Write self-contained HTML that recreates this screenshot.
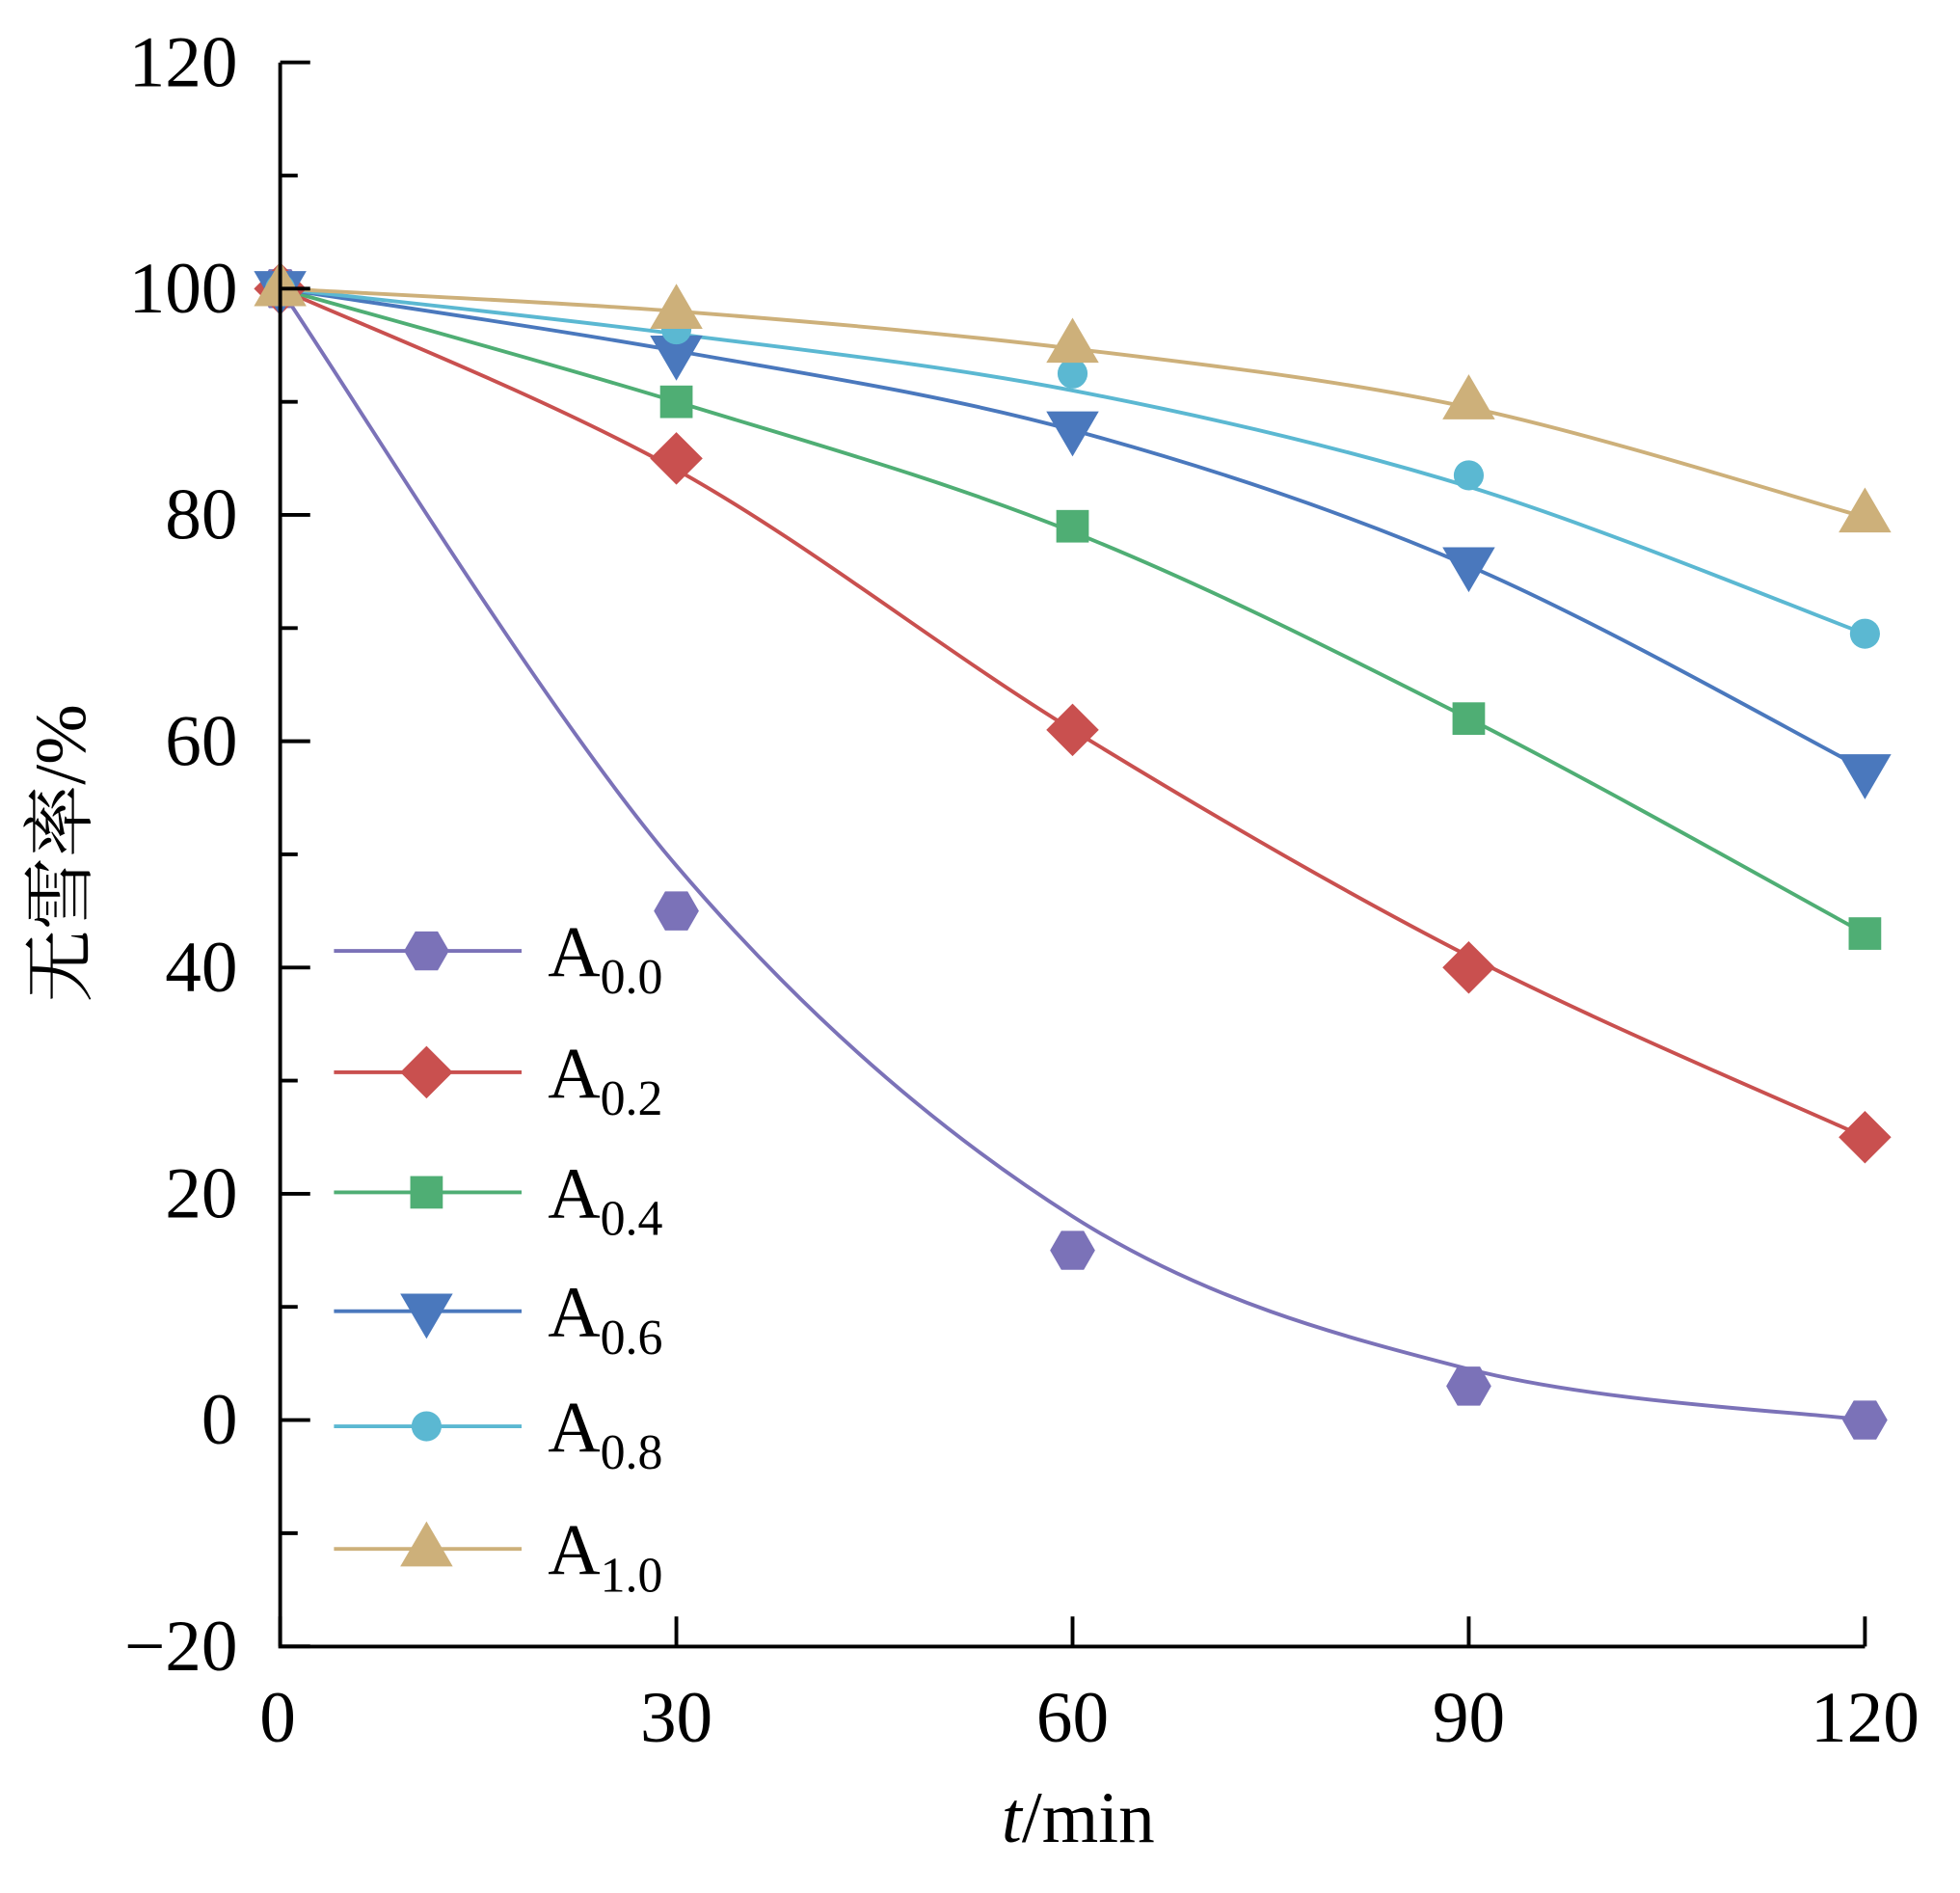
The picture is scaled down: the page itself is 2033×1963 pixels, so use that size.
<!DOCTYPE html>
<html><head><meta charset="utf-8"><style>html,body{margin:0;padding:0;background:#fff}svg{display:block}</style></head>
<body>
<svg id="s" xmlns="http://www.w3.org/2000/svg" width="2033" height="1963" viewBox="0 0 1567 1513">
<rect width="1567" height="1513" fill="#fff"/>
<g id="curves"></g><g id="marks"></g>
<g stroke="#000" stroke-width="3" fill="none">
<path d="M224,50 V1316 H1491"/>
</g>
<g id="ticks" stroke="#000" stroke-width="3"></g>
<g font-family="'Liberation Serif',serif" font-size="58" fill="#000" text-anchor="end" id="ylab"></g>
<g font-family="'Liberation Serif',serif" font-size="58" fill="#000" text-anchor="middle" id="xlab"></g>
<text x="862" y="1472" font-family="'Liberation Serif',serif" font-size="58" text-anchor="middle"><tspan font-style="italic">t</tspan>/min</text>
<text transform="translate(68,682) rotate(-90)" font-family="'Liberation Serif','Noto Serif CJK SC',serif" font-size="58" text-anchor="middle">无雪率/%</text>
<g id="legend"></g>
</svg>
<script>
const NS="http://www.w3.org/2000/svg";
const X=v=>224+v*(1267/120), Y=v=>1135-v*9.043;
function el(p,t,a){const e=document.createElementNS(NS,t);for(const k in a)e.setAttribute(k,a[k]);p.appendChild(e);return e;}
const tk=document.getElementById('ticks'),yl=document.getElementById('ylab'),xl=document.getElementById('xlab');
for(let v=-20;v<=120;v+=10){const y=Y(v),maj=v%20==0;el(tk,'line',{x1:224,x2:224+(maj?24:14),y1:y,y2:y});
 if(maj){const t=el(yl,'text',{x:190,y:y+19});t.textContent=(v<0?'\u2212':'')+Math.abs(v);}}
for(let v=0;v<=120;v+=30){const x=X(v);el(tk,'line',{x1:x,x2:x,y1:1316,y2:1292});const t=el(xl,'text',{x:v==0?222:x,y:1392});t.textContent=v;}
const S=[
 {c:'#7b72b8',m:'hex',curve:[100,49,18,4.5,0],pts:[100,45,15,3,0],n:'0.0'},
 {c:'#c9504f',m:'dia',curve:[100,84,61,41,25],pts:[100,85,61,40,25],n:'0.2'},
 {c:'#4fae74',m:'sq',curve:[100,90,78.5,62,43],pts:[100,90,79,62,43],n:'0.4'},
 {c:'#4a78bd',m:'tri-d',curve:[100,94.5,87.5,75.5,57.5],pts:[100,94.3,87.6,75.6,57.3],n:'0.6'},
 {c:'#5bb8d2',m:'circ',curve:[100,96,91,82.5,69.5],pts:[100,96.4,92.5,83.5,69.5],n:'0.8'},
 {c:'#cdb07a',m:'tri',curve:[100,98,94.7,89.5,79.8],pts:[100,98,95,90,80],n:'1.0'}];
function spline(vals){const P=vals.map((v,i)=>[X(i*30),Y(v)]);let d='M'+P[0];
 for(let i=0;i<P.length-1;i++){const p0=P[Math.max(i-1,0)],p1=P[i],p2=P[i+1],p3=P[Math.min(i+2,P.length-1)];
 const c1=[p1[0]+(p2[0]-p0[0])/6,p1[1]+(p2[1]-p0[1])/6],c2=[p2[0]-(p3[0]-p1[0])/6,p2[1]-(p3[1]-p1[1])/6];
 d+=' C'+c1+' '+c2+' '+p2;}return d;}
function mark(g,m,x,y,c){
 if(m=='hex'){const r=18,p=[];for(let k=0;k<6;k++){const a=Math.PI/3*k;p.push((x+r*Math.cos(a))+','+(y+r*Math.sin(a)));}el(g,'polygon',{points:p.join(' '),fill:c});}
 else if(m=='dia')el(g,'polygon',{points:`${x},${y-21} ${x+21},${y} ${x},${y+21} ${x-21},${y}`,fill:c});
 else if(m=='sq')el(g,'rect',{x:x-13,y:y-13,width:26,height:26,fill:c});
 else if(m=='tri-d')el(g,'polygon',{points:`${x-21},${y-14} ${x+21},${y-14} ${x},${y+22}`,fill:c});
 else if(m=='circ')el(g,'circle',{cx:x,cy:y,r:12,fill:c});
 else el(g,'polygon',{points:`${x-21},${y+14} ${x+21},${y+14} ${x},${y-22}`,fill:c});}
const cg=document.getElementById('curves'),mg=document.getElementById('marks'),lg=document.getElementById('legend');
const ly=[760,857,953,1048,1140,1238];
S.forEach((s,i)=>{el(cg,'path',{d:spline(s.curve),stroke:s.c,'stroke-width':3,fill:'none'});
 s.pts.forEach((v,j)=>mark(mg,s.m,X(j*30),Y(v),s.c));
 el(lg,'line',{x1:267,x2:417,y1:ly[i],y2:ly[i],stroke:s.c,'stroke-width':3});mark(lg,s.m,341,ly[i],s.c);
 const t=el(lg,'text',{x:438,y:ly[i]+20,'font-family':"'Liberation Serif',serif",'font-size':58});
 t.textContent='A';const sb=el(t,'tspan',{'font-size':40,dy:14});sb.textContent=s.n;});
</script>
</body></html>
